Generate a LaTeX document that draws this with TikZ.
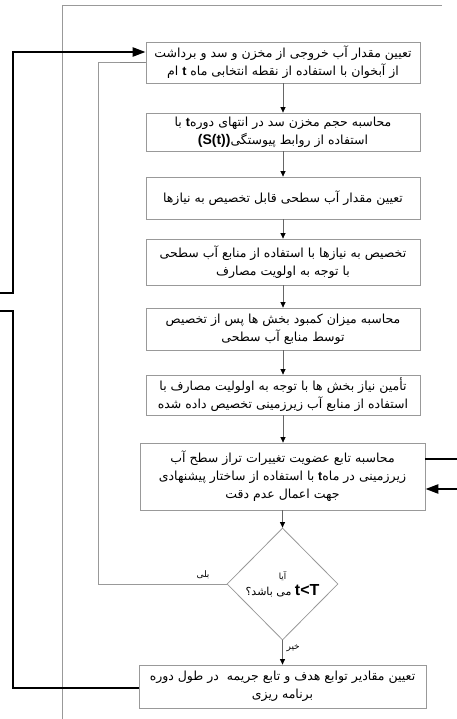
\documentclass[tikz,border=0pt]{standalone}
\usepackage{fontspec}
\setmainfont{DejaVu Sans}
\newfontfamily\farsifont[Script=Arabic]{DejaVu Sans}
\newfontfamily\latinfont{Liberation Sans}
\TeXXeTstate=1
\usetikzlibrary{arrows.meta,shapes.geometric}
\newcommand{\rtext}[1]{\beginR #1\endR}
\newcommand{\lat}[1]{\beginL{\latinfont\bfseries\fontsize{12.5}{13}\selectfont #1}\endL}

\tikzset{
  stepbox/.style={draw=black!40, line width=0.8pt, minimum width=274pt, align=center,
    inner sep=2pt, font=\farsifont\fontsize{12.5}{18}\selectfont},
  decbox/.style={diamond, draw=black!40, line width=0.8pt, minimum width=111pt,
    minimum height=112pt, inner sep=0pt, align=center, font=\farsifont\fontsize{11}{16}\selectfont},
  flow/.style={draw=black!60, line width=0.7pt, -{Triangle[length=5.5pt,width=5pt,color=black]}},
  loopline/.style={draw=black!40, line width=0.8pt},
  heavy/.style={draw=black, line width=2.4pt},
  frame/.style={draw=black!40, line width=0.8pt}
}

\begin{document}
\begin{tikzpicture}[x=1pt,y=-1pt]
  \useasboundingbox (0,0) rectangle (457,719);
  % frame
  \draw[frame] (62,719) -- (62,5) -- (442,5);

  % steps
  \node[stepbox, minimum height=41pt] (b1) at (283,62.5)
    {\rtext{تعیین مقدار آب خروجی از مخزن و سد و برداشت}\\
     \rtext{از آبخوان با استفاده از نقطه انتخابی ماه \lat{t} ام}};
  \node[stepbox, minimum height=38pt] (b2) at (283,132)
    {\rtext{محاسبه حجم مخزن سد در انتهای دوره\lat{t} با}\\
     \rtext{استفاده از روابط پیوستگی\lat{\fontsize{14}{15}\selectfont(S(t))}}};
  \node[stepbox, minimum height=42pt] (b3) at (283,198)
    {\rtext{تعیین مقدار آب سطحی قابل تخصیص به نیازها}};
  \node[stepbox, minimum height=46pt] (b4) at (283,262)
    {\rtext{تخصیص به نیازها با استفاده از منابع آب سطحی}\\
     \rtext{با توجه به اولویت مصارف}};
  \node[stepbox, minimum height=42pt] (b5) at (283,329)
    {\rtext{محاسبه میزان کمبود بخش ها پس از تخصیص}\\
     \rtext{توسط منابع آب سطحی}};
  \node[stepbox, minimum height=40pt] (b6) at (283,395)
    {\rtext{تأمین نیاز بخش ها با توجه به اولولیت مصارف با}\\
     \rtext{استفاده از منابع آب زیرزمینی تخصیص داده شده}};
  \node[stepbox, minimum width=285pt, minimum height=67pt] (b7) at (282.5,476.5)
    {\rtext{محاسبه تابع عضویت تغییرات تراز سطح آب}\\
     \rtext{زیرزمینی در ماه\lat{t} با استفاده از ساختار پیشنهادی}\\
     \rtext{جهت اعمال عدم دقت}};
  \node[decbox] (dec) at (282.5,584)
    {{\fontsize{8.5}{10}\selectfont\rtext{آیا}}\\
     \rtext{\lat{\fontsize{16}{16}\selectfont t<T} می باشد؟}};
  \node[stepbox, minimum width=287pt, minimum height=43pt] (last) at (282.5,686.5)
    {\rtext{تعیین مقادیر توابع هدف و تابع جریمه \ در طول دوره}\\
     \rtext{برنامه ریزی}};

  % connectors
  \draw[flow] (b1.south) -- (b1.south |- b2.north);
  \draw[flow] (b2.south) -- (b2.south |- b3.north);
  \draw[flow] (b3.south) -- (b3.south |- b4.north);
  \draw[flow] (b4.south) -- (b4.south |- b5.north);
  \draw[flow] (b5.south) -- (b5.south |- b6.north);
  \draw[flow] (b6.south) -- (b6.south |- b7.north);
  \draw[flow] (b7.south) -- (b7.south |- dec.north);
  \draw[flow] (dec.south) -- (dec.south |- last.north);
  \coordinate (back) at (98,584);
  \draw[loopline] (dec.west) -- (back) |- (b1.west);
  \draw[-{Triangle[length=9pt,width=5pt]}, draw=none, fill=black] (120,62.5) -- (b1.west);
  \node[font=\farsifont\fontsize{9}{10}\selectfont, anchor=south] (yes) at (203,582) {\rtext{بلی}};
  \node[font=\farsifont\fontsize{9}{10}\selectfont, anchor=west] (no) at (283,648) {\rtext{خیر}};

  % outer links
  \coordinate (inA) at (0,293);
  \coordinate (inB) at (0,311);
  \coordinate (outR) at (457,459);
  \coordinate (inR) at (457,489);
  \draw[heavy, -{Triangle[length=13pt,width=9pt]}] (inA) -| (13,52) -- (b1.west |- 0,52);
  \draw[heavy] (inB) -| (13,688) -- (last.west |- 0,688);
  \draw[heavy] (b7.east |- outR) -- (outR);
  \draw[heavy, -{Triangle[length=13pt,width=9pt]}] (inR) -- (b7.east |- inR);
\end{tikzpicture}
\end{document}
